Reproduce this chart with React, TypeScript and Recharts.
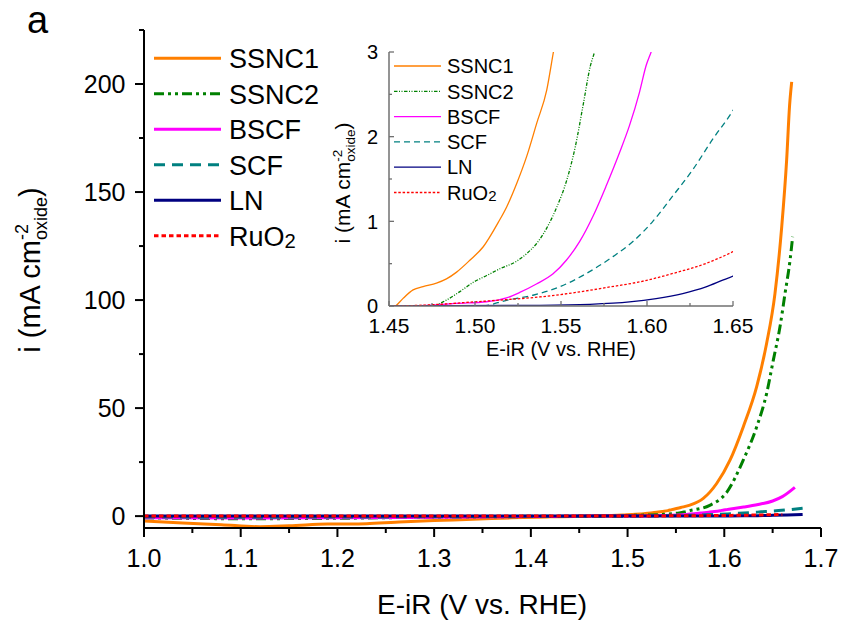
import React from 'react';
import { LineChart, Line, XAxis, YAxis, Legend } from 'recharts';

const FONT = '"Liberation Sans", Arial, Helvetica, sans-serif';

type Pt = [number, number];

// Potential E-iR (V vs. RHE), current density i (mA cm^-2 oxide)
const SSNC1: Pt[] = [
  [1.0, -2.2], [1.04, -3.2], [1.08, -4.0], [1.12, -4.9], [1.15, -4.5], [1.19, -3.7],
  [1.23, -3.5], [1.26, -2.8], [1.3, -2.0], [1.34, -1.5], [1.38, -0.8], [1.42, -0.35],
  [1.445, -0.12], [1.4539, 0], [1.4582, 0.09], [1.464, 0.19], [1.4698, 0.23], [1.4776, 0.27],
  [1.4834, 0.32], [1.4893, 0.4], [1.497, 0.54], [1.5048, 0.7], [1.5136, 0.99], [1.5184, 1.17],
  [1.5243, 1.45], [1.5301, 1.77], [1.5359, 2.16], [1.5417, 2.55], [1.5456, 3.0], [1.555, 4.0],
  [1.5645, 5.1], [1.5783, 8.2], [1.5921, 15.1], [1.6059, 25.9], [1.6196, 41.3], [1.6335, 59.9],
  [1.6438, 80], [1.6524, 103], [1.6594, 134], [1.6645, 165], [1.6675, 190], [1.6697, 201],
];
const SSNC2: Pt[] = [
  [1.0, -0.8], [1.1, -1.2], [1.2, -1.0], [1.3, -0.5], [1.4, -0.2], [1.4757, 0],
  [1.4834, 0.07], [1.4912, 0.17], [1.499, 0.28], [1.5068, 0.36], [1.5145, 0.44], [1.5243, 0.53],
  [1.5301, 0.62], [1.5359, 0.74], [1.5417, 0.92], [1.5476, 1.17], [1.5534, 1.49], [1.5583, 1.88],
  [1.5631, 2.4], [1.567, 2.83], [1.5695, 3.0], [1.585, 5.0], [1.6025, 11], [1.6196, 25.9],
  [1.6335, 41.3], [1.6438, 56.8], [1.6507, 72.2], [1.6576, 87.6], [1.6628, 103], [1.668, 118.5],
  [1.6707, 129.3],
];
const BSCF: Pt[] = [
  [1.0, -0.7], [1.1, -0.9], [1.2, -0.8], [1.3, -0.5], [1.4, -0.2], [1.46, 0],
  [1.4757, 0.01], [1.4893, 0.03], [1.5067, 0.05], [1.5183, 0.095], [1.526, 0.16], [1.5357, 0.26],
  [1.5454, 0.38], [1.5531, 0.54], [1.5608, 0.76], [1.5686, 1.06], [1.5763, 1.42], [1.584, 1.81],
  [1.5898, 2.13], [1.5957, 2.53], [1.5995, 2.84], [1.6024, 3.0], [1.61, 3.5], [1.62, 4.2],
  [1.635, 5.4], [1.65, 7.0], [1.66, 9.0], [1.673, 13.3],
];
const SCF: Pt[] = [
  [1.0, -0.4], [1.1, -0.5], [1.2, -0.4], [1.3, -0.3], [1.4, -0.1], [1.48, -0.02],
  [1.5047, 0], [1.5183, 0.067], [1.5337, 0.127], [1.5492, 0.226], [1.5647, 0.384], [1.5802, 0.583],
  [1.5918, 0.761], [1.6034, 1.0], [1.615, 1.3], [1.6266, 1.61], [1.6382, 1.97], [1.65, 2.31],
  [1.665, 2.9], [1.681, 3.6],
];
const LN: Pt[] = [
  [1.0, 0], [1.3, 0], [1.45, 0], [1.5376, 0.008], [1.5667, 0.02], [1.5898, 0.048],
  [1.6053, 0.087], [1.6208, 0.147], [1.6343, 0.226], [1.644, 0.305], [1.65, 0.353], [1.665, 0.55],
  [1.681, 0.8],
];
const RuO2: Pt[] = [
  [1.0, 0], [1.3, 0], [1.45, 0], [1.4796, 0.02], [1.499, 0.048], [1.5183, 0.075],
  [1.5376, 0.107], [1.557, 0.155], [1.5763, 0.218], [1.5957, 0.285], [1.615, 0.384], [1.6343, 0.503],
  [1.65, 0.642], [1.66, 0.75],
];

const seriesNames = ['SSNC1', 'SSNC2', 'BSCF', 'SCF', 'LN', 'RuO2'];
const seriesData = [SSNC1, SSNC2, BSCF, SCF, LN, RuO2];
const seriesColors = ['#FF7F00', '#008000', '#FF00FF', '#008080', '#000080', '#FF0000'];
const mainDash: (string | undefined)[] = [undefined, '10 4 3 4 3 4', undefined, '11 7', undefined, '4.5 3'];
const insetDash: (string | undefined)[] = [undefined, '3.5 1.5 1 1.5 1 1.5', undefined, '6 4', undefined, '2.5 1.8'];

const mainXTicks = [1.0, 1.05, 1.1, 1.15, 1.2, 1.25, 1.3, 1.35, 1.4, 1.45, 1.5, 1.55, 1.6, 1.65, 1.7];
const mainYTicks = [0, 25, 50, 75, 100, 125, 150, 175, 200, 225];
const insetXTicks = [1.45, 1.475, 1.5, 1.525, 1.55, 1.575, 1.6, 1.625, 1.65];
const insetYTicks = [0, 0.5, 1, 1.5, 2, 2.5, 3];

const rows = (pts: Pt[]) => pts.map(([E, i]) => ({ E, i }));

type Side = 'left' | 'right' | 'top' | 'bottom';
interface TickCfg {
  side: Side;
  inward: boolean;
  major: (v: number) => boolean;
  majLen: number;
  minLen: number;
  color: string;
  width: number;
  label?: (v: number) => string;
  fontSize?: number;
  offset?: number;
}

const makeTick = (c: TickCfg) => (props: any) => {
  const { x, y, payload } = props;
  const v = payload.value as number;
  const M = c.major(v);
  const len = M ? c.majLen : c.minLen;
  const s = c.inward ? -1 : 1;
  let x2 = x;
  let y2 = y;
  if (c.side === 'left') x2 = x - s * len;
  if (c.side === 'right') x2 = x + s * len;
  if (c.side === 'top') y2 = y - s * len;
  if (c.side === 'bottom') y2 = y + s * len;
  const fs = c.fontSize || 12;
  let txt: React.ReactNode = null;
  if (M && c.label) {
    if (c.side === 'left') {
      txt = (
        <text x={x - (c.offset || 0)} y={y + 0.36 * fs} textAnchor="end" fontSize={fs} fontFamily={FONT} fill="#000">
          {c.label(v)}
        </text>
      );
    } else if (c.side === 'bottom') {
      txt = (
        <text x={x} y={y + (c.offset || 0)} textAnchor="middle" fontSize={fs} fontFamily={FONT} fill="#000">
          {c.label(v)}
        </text>
      );
    }
  }
  return (
    <g>
      <line x1={x} y1={y} x2={x2} y2={y2} stroke={c.color} strokeWidth={c.width} />
      {txt}
    </g>
  );
};

const isMainXMajor = (v: number) => Math.round(v * 100) % 10 === 0;
const isMainYMajor = (v: number) => Math.round(v) % 50 === 0;
const isInsetXMajor = (v: number) => Math.round(v * 1000) % 50 === 0;
const isInsetYMajor = (v: number) => Math.abs(v - Math.round(v)) < 1e-6;

const legendRenderer = (o: { lineX1: number; lineX2: number; textX: number; y0: number; dy: number; fs: number; sw: number; dashes: (string | undefined)[]; w: number; h: number }) => () => (
  <svg width={o.w} height={o.h} style={{ display: 'block', overflow: 'visible' }}>
    {seriesNames.map((n, k) => {
      const y = o.y0 + k * o.dy;
      return (
        <g key={n}>
          <line x1={o.lineX1} x2={o.lineX2} y1={y} y2={y} stroke={seriesColors[k]} strokeWidth={o.sw} strokeDasharray={o.dashes[k]} />
          <text x={o.textX} y={y + 0.36 * o.fs} fontSize={o.fs} fontFamily={FONT} fill="#000">
            {n === 'RuO2' ? (
              <>
                RuO<tspan fontSize={o.fs * 0.75} dy={o.fs * 0.08}>2</tspan>
              </>
            ) : (
              n
            )}
          </text>
        </g>
      );
    })}
  </svg>
);

const MAIN_X_DOMAIN: [number, number] = [1.0, 1.7];
const MAIN_Y_DOMAIN: [number, number] = [-5.5, 225];
const INSET_X_DOMAIN: [number, number] = [1.45, 1.65];
const INSET_Y_DOMAIN: [number, number] = [0, 3];

export default function App() {
  const mainAxisStroke = { stroke: '#000', strokeWidth: 2 };
  const insetAxisStroke = { stroke: '#707070', strokeWidth: 1.5 };
  return (
    <div style={{ position: 'absolute', left: 0, top: 0, width: 844, height: 625, background: '#fff', fontFamily: FONT }}>
      <div style={{ position: 'absolute', left: 0, top: 0 }}>
        <LineChart width={844} height={625} margin={{ top: 30, right: 23, bottom: 67, left: 84 }}>
          <XAxis
            xAxisId={0}
            dataKey="E"
            type="number"
            domain={MAIN_X_DOMAIN}
            ticks={mainXTicks}
            interval={0}
            height={30}
            tickSize={0}
            tickMargin={0}
            tickLine={false}
            axisLine={mainAxisStroke}
            allowDataOverflow
            tick={makeTick({ side: 'bottom', inward: false, major: isMainXMajor, majLen: 9, minLen: 5, color: '#000', width: 2, label: (v) => v.toFixed(1), fontSize: 25, offset: 39 })}
          />
          <XAxis
            xAxisId="t"
            dataKey="E"
            type="number"
            orientation="top"
            domain={MAIN_X_DOMAIN}
            ticks={mainXTicks}
            interval={0}
            height={0}
            tickSize={0}
            tickMargin={0}
            tickLine={false}
            axisLine={mainAxisStroke}
            allowDataOverflow
            tick={makeTick({ side: 'top', inward: true, major: isMainXMajor, majLen: 4, minLen: 3, color: '#000', width: 2 })}
          />
          <YAxis
            yAxisId={0}
            type="number"
            domain={MAIN_Y_DOMAIN}
            ticks={mainYTicks}
            interval={0}
            width={60}
            tickSize={0}
            tickMargin={0}
            tickLine={false}
            axisLine={mainAxisStroke}
            allowDataOverflow
            tick={makeTick({ side: 'left', inward: false, major: isMainYMajor, majLen: 9, minLen: 5, color: '#000', width: 2, label: (v) => String(v), fontSize: 25, offset: 18.5 })}
          />
          <YAxis
            yAxisId="r"
            type="number"
            orientation="right"
            domain={MAIN_Y_DOMAIN}
            ticks={mainYTicks}
            interval={0}
            width={0}
            tickSize={0}
            tickMargin={0}
            tickLine={false}
            axisLine={mainAxisStroke}
            allowDataOverflow
            tick={makeTick({ side: 'right', inward: true, major: isMainYMajor, majLen: 4, minLen: 3, color: '#000', width: 2 })}
          />
          {seriesNames.map((n, k) => (
            <Line
              key={n}
              xAxisId={0}
              yAxisId={0}
              data={rows(seriesData[k])}
              dataKey="i"
              name={n}
              type="monotone"
              stroke={seriesColors[k]}
              strokeWidth={3}
              strokeDasharray={mainDash[k]}
              dot={false}
              activeDot={false}
              isAnimationActive={false}
            />
          ))}
          <Legend
            layout="horizontal"
            align="center"
            verticalAlign="middle"
            wrapperStyle={{ left: 148, top: 38, width: 190, height: 220, right: 'auto', bottom: 'auto' }}
            content={legendRenderer({ lineX1: 6, lineX2: 73, textX: 81, y0: 20.3, dy: 35.5, fs: 27, sw: 3, dashes: mainDash, w: 190, h: 220 })}
          />
        </LineChart>
      </div>

      <div style={{ position: 'absolute', left: 300, top: 30 }}>
        <LineChart width={460} height={340} margin={{ top: 22, right: 27, bottom: 34, left: 49 }}>
          <XAxis
            xAxisId={0}
            dataKey="E"
            type="number"
            domain={INSET_X_DOMAIN}
            ticks={insetXTicks}
            interval={0}
            height={30}
            tickSize={0}
            tickMargin={0}
            tickLine={false}
            axisLine={insetAxisStroke}
            allowDataOverflow
            tick={makeTick({ side: 'bottom', inward: true, major: isInsetXMajor, majLen: 5, minLen: 3, color: '#707070', width: 1.3, label: (v) => v.toFixed(2), fontSize: 21, offset: 27 })}
          />
          <XAxis
            xAxisId="t"
            dataKey="E"
            type="number"
            orientation="top"
            domain={INSET_X_DOMAIN}
            ticks={insetXTicks}
            interval={0}
            height={0}
            tickSize={0}
            tickMargin={0}
            tickLine={false}
            axisLine={insetAxisStroke}
            allowDataOverflow
            tick={makeTick({ side: 'top', inward: true, major: isInsetXMajor, majLen: 5, minLen: 3, color: '#707070', width: 1.3 })}
          />
          <YAxis
            yAxisId={0}
            type="number"
            domain={INSET_Y_DOMAIN}
            ticks={insetYTicks}
            interval={0}
            width={40}
            tickSize={0}
            tickMargin={0}
            tickLine={false}
            axisLine={insetAxisStroke}
            allowDataOverflow
            tick={makeTick({ side: 'left', inward: true, major: isInsetYMajor, majLen: 5, minLen: 3, color: '#707070', width: 1.3, label: (v) => String(v), fontSize: 20, offset: 11 })}
          />
          <YAxis
            yAxisId="r"
            type="number"
            orientation="right"
            domain={INSET_Y_DOMAIN}
            ticks={insetYTicks}
            interval={0}
            width={0}
            tickSize={0}
            tickMargin={0}
            tickLine={false}
            axisLine={insetAxisStroke}
            allowDataOverflow
            tick={makeTick({ side: 'right', inward: true, major: isInsetYMajor, majLen: 5, minLen: 3, color: '#707070', width: 1.3 })}
          />
          {seriesNames.map((n, k) => (
            <Line
              key={n}
              xAxisId={0}
              yAxisId={0}
              data={rows(seriesData[k])}
              dataKey="i"
              name={n}
              type="monotone"
              stroke={seriesColors[k]}
              strokeWidth={1.3}
              strokeDasharray={insetDash[k]}
              dot={false}
              activeDot={false}
              isAnimationActive={false}
            />
          ))}
          <Legend
            layout="horizontal"
            align="center"
            verticalAlign="middle"
            wrapperStyle={{ left: 90, top: 20, width: 140, height: 160, right: 'auto', bottom: 'auto' }}
            content={legendRenderer({ lineX1: 4, lineX2: 51, textX: 57, y0: 16, dy: 25.3, fs: 20, sw: 1.3, dashes: insetDash, w: 140, h: 160 })}
          />
        </LineChart>
      </div>

      <svg width={844} height={625} style={{ position: 'absolute', left: 0, top: 0, pointerEvents: 'none' }}>
        <text x={27} y={33} fontSize={38} fontFamily={FONT} fill="#000">a</text>
        <text x={482} y={614} textAnchor="middle" fontSize={28} fontFamily={FONT} fill="#000">E-iR (V vs. RHE)</text>
        <text x={40} y={270} transform="rotate(-90 40 270)" textAnchor="middle" fontSize={29} fontFamily={FONT} fill="#000">
          i (mA cm<tspan fontSize={18} dy={-12}>-2</tspan>
          <tspan fontSize={18} dx={-16} dy={19}>oxide</tspan>
          <tspan fontSize={29} dy={-7}>)</tspan>
        </text>
        <text x={561} y={356} textAnchor="middle" fontSize={20} fontFamily={FONT} fill="#000">E-iR (V vs. RHE)</text>
        <text x={350} y={183} transform="rotate(-90 350 183)" textAnchor="middle" fontSize={21} fontFamily={FONT} fill="#000">
          i (mA cm<tspan fontSize={13.5} dy={-8.5}>-2</tspan>
          <tspan fontSize={13.5} dx={-12} dy={13.5}>oxide</tspan>
          <tspan fontSize={21} dy={-5}>)</tspan>
        </text>
      </svg>
    </div>
  );
}
